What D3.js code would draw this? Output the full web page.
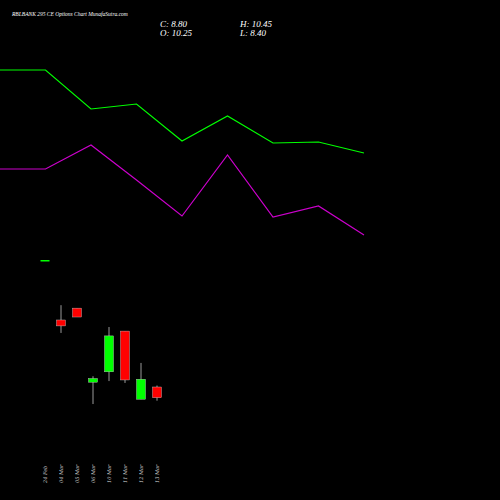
<!DOCTYPE html><html><head><script src="https://cdn.jsdelivr.net/npm/d3@7"></script>
<style>body{margin:0;background:#000}</style></head><body><script>
const dates=["24 Feb","04 Mar","05 Mar","06 Mar","10 Mar","11 Mar","12 Mar","13 Mar"];
const opens=[27.4,19.3,20.9,10.9,12.3,17.8,8.6,10.25];
const closes=[27.4,18.5,19.7,11.4,17.15,11.2,11.3,8.8];
const highs=[27.4,21.3,20.9,11.7,18.35,17.8,13.5,10.45];
const lows=[27.4,17.55,19.7,7.95,11.05,10.8,8.6,8.4];
const greenLine=[90,90,70.5,73,54.5,67,53.5,54,48.5];
const purpleLine=[40.5,40.5,52.5,35,17,47.5,16.5,22,7.5];
const W=500,H=500;
const svg=d3.select("body").append("svg").attr("width",W).attr("height",H).style("background","#000");
const x=d3.scaleLinear().domain([0,7]).range([45,157]);
const y=d3.scaleLinear().domain([10.25,27.4]).range([387,260]);
const lx=d3.scaleLinear().domain([0,8]).range([0,364]);
const ly=d3.scaleLinear().domain([0,100]).range([250,50]);
const line=d3.line().x((d,i)=>lx(i)).y(d=>ly(d));
svg.append("path").attr("d",line(greenLine)).attr("fill","none").attr("stroke","#00ff00").attr("stroke-width",1.2);
svg.append("path").attr("d",line(purpleLine)).attr("fill","none").attr("stroke","#cc00cc").attr("stroke-width",1.2);
dates.forEach((d,i)=>{
 const up=closes[i]>=opens[i], col=up?"#00ff00":"#ff0000";
 svg.append("line").attr("x1",x(i)).attr("x2",x(i)).attr("y1",y(highs[i])).attr("y2",y(lows[i])).attr("stroke","#999").attr("stroke-width",1);
 const top=y(Math.max(opens[i],closes[i])),bot=y(Math.min(opens[i],closes[i]));
 svg.append("rect").attr("x",x(i)-4.5).attr("width",9).attr("y",top).attr("height",Math.max(1.5,bot-top)).attr("fill",col).attr("stroke",i==0?"none":"#ccc").attr("stroke-width",0.4);
 svg.append("text").attr("transform",`translate(${x(i)+2},483) rotate(-90)`).attr("fill","#ccc").attr("font-family","DejaVu Serif").attr("font-style","italic").attr("font-size",5).text(d);
});
const t=(s,xx,yy,fs)=>svg.append("text").attr("x",xx).attr("y",yy).attr("fill","#fff").attr("font-family","Liberation Serif").attr("font-style","italic").attr("font-size",fs).text(s);
t("RBLBANK 295 CE Options  Chart MunafaSutra.com",12,16,5.5);
t("C: 8.80",160,27,9);t("O: 10.25",160,36,9);t("H: 10.45",240,27,9);t("L: 8.40",240,36,9);
</script></body></html>
